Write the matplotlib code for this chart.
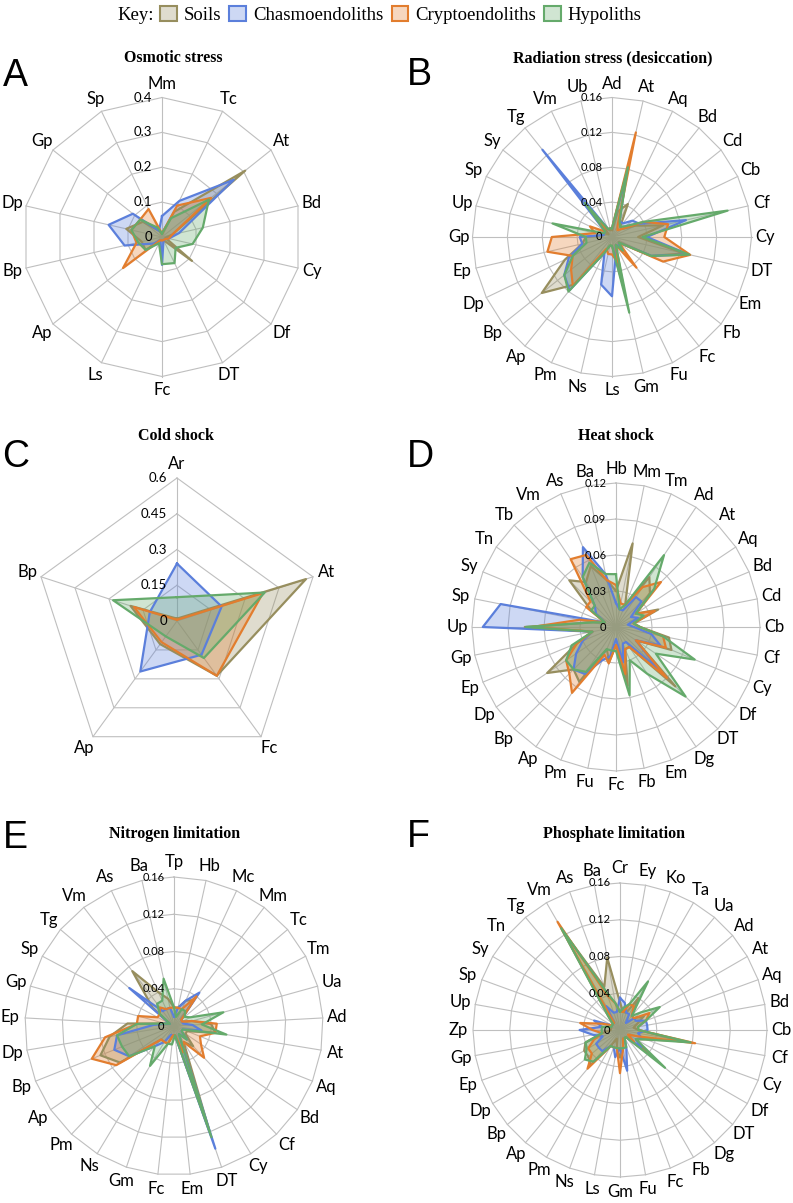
import numpy as np
import matplotlib
matplotlib.use("Agg")
import matplotlib.pyplot as plt
from matplotlib.patches import Patch
from matplotlib.colors import to_rgba

W, H = 793, 1203

series_names = ["Soils", "Chasmoendoliths", "Cryptoendoliths", "Hypoliths"]
edge_colors = ["#978E5E", "#5B7FDB", "#E27D2E", "#65AA6B"]
grid_color = "#BFBFBF"

# A - Osmotic stress
osm_cats = ["Mm", "Tc", "At", "Bd", "Cy", "Df", "DT", "Fc", "Ls", "Ap", "Bp", "Dp", "Gp", "Sp"]
osm_soils = [0.01, 0.08, 0.305, 0.03, 0.01, 0.11, 0.01, 0.01, 0.01, 0.06, 0.06, 0.105, 0.07, 0.02]
osm_chasmo = [0.06, 0.115, 0.263, 0.05, 0.02, 0.01, 0.01, 0.08, 0.01, 0.03, 0.11, 0.157, 0.107, 0.02]
osm_crypto = [0.01, 0.10, 0.18, 0.03, 0.02, 0.01, 0.01, 0.01, 0.01, 0.143, 0.075, 0.09, 0.08, 0.089]
osm_hypo = [0.01, 0.06, 0.172, 0.12, 0.09, 0.05, 0.083, 0.078, 0.02, 0.06, 0.07, 0.09, 0.08, 0.03]

# B - Radiation stress (desiccation)
rad_cats = ["Ad", "At", "Aq", "Bd", "Cd", "Cb", "Cf", "Cy", "DT", "Em", "Fb", "Fc", "Fu", "Gm",
            "Ls", "Ns", "Pm", "Ap", "Bp", "Dp", "Ep", "Gp", "Up", "Sp", "Sy", "Tg", "Vm", "Ub"]
rad_soils = [0.008, 0.03, 0.042, 0.015, 0.015, 0.03, 0.06, 0.03, 0.085, 0.05, 0.01, 0.02, 0.01, 0.06,
             0.01, 0.01, 0.02, 0.07, 0.103, 0.06, 0.035, 0.03, 0.01, 0.01, 0.005, 0.02, 0.01, 0.008]
rad_chasmo = [0.01, 0.075, 0.02, 0.02, 0.03, 0.035, 0.087, 0.04, 0.09, 0.05, 0.01, 0.015, 0.01, 0.02,
              0.068, 0.056, 0.02, 0.078, 0.07, 0.055, 0.035, 0.037, 0.01, 0.01, 0.01, 0.128, 0.01, 0.01]
rad_crypto = [0.01, 0.123, 0.015, 0.01, 0.015, 0.04, 0.066, 0.06, 0.092, 0.065, 0.01, 0.045, 0.01, 0.03,
              0.02, 0.02, 0.015, 0.072, 0.06, 0.05, 0.076, 0.069, 0.02, 0.028, 0.01, 0.02, 0.01, 0.01]
rad_hypo = [0.01, 0.082, 0.02, 0.015, 0.02, 0.04, 0.136, 0.035, 0.091, 0.05, 0.01, 0.02, 0.01, 0.089,
            0.01, 0.01, 0.02, 0.08, 0.07, 0.05, 0.03, 0.03, 0.07, 0.01, 0.01, 0.05, 0.01, 0.01]

# C - Cold shock
cold_cats = ["Ar", "At", "Fc", "Ap", "Bp"]
cold_soils = [0.01, 0.569, 0.284, 0.12, 0.205]
cold_chasmo = [0.241, 0.197, 0.175, 0.262, 0.12]
cold_crypto = [0.005, 0.379, 0.284, 0.11, 0.19]
cold_hypo = [0.10, 0.387, 0.192, 0.08, 0.282]

# D - Heat shock
heat_cats = ["Hb", "Mm", "Tm", "Ad", "At", "Aq", "Bd", "Cd", "Cb", "Cf", "Cy", "Df", "DT", "Dg", "Em", "Fb",
             "Fc", "Fu", "Pm", "Ap", "Bp", "Dp", "Ep", "Gp", "Up", "Sp", "Sy", "Tn", "Tb", "Vm", "As", "Ba"]
heat_soils = [0.03, 0.071, 0.02, 0.05, 0.04, 0.02, 0.038, 0.015, 0.02, 0.045, 0.05, 0.02, 0.07, 0.02, 0.02, 0.05,
              0.015, 0.03, 0.02, 0.055, 0.05, 0.069, 0.035, 0.02, 0.076, 0.02, 0.01, 0.025, 0.055, 0.045, 0.055, 0.04]
heat_chasmo = [0.02, 0.015, 0.015, 0.03, 0.03, 0.015, 0.02, 0.01, 0.015, 0.03, 0.04, 0.02, 0.05, 0.015, 0.015, 0.03,
               0.01, 0.025, 0.03, 0.047, 0.05, 0.04, 0.03, 0.02, 0.111, 0.098, 0.01, 0.02, 0.025, 0.05, 0.072, 0.045]
heat_crypto = [0.035, 0.02, 0.02, 0.04, 0.053, 0.02, 0.035, 0.015, 0.02, 0.04, 0.045, 0.02, 0.06, 0.02, 0.02, 0.04,
               0.015, 0.031, 0.025, 0.066, 0.055, 0.05, 0.035, 0.02, 0.07, 0.031, 0.01, 0.03, 0.03, 0.068, 0.065, 0.04]
heat_hypo = [0.044, 0.015, 0.02, 0.072, 0.045, 0.02, 0.025, 0.015, 0.02, 0.04, 0.071, 0.04, 0.082, 0.047, 0.03, 0.058,
             0.02, 0.02, 0.02, 0.045, 0.05, 0.05, 0.04, 0.02, 0.075, 0.02, 0.01, 0.025, 0.025, 0.05, 0.058, 0.045]

# E - Nitrogen limitation
nit_cats = ["Tp", "Hb", "Mc", "Mm", "Tc", "Tm", "Ua", "Ad", "At", "Aq", "Bd", "Cf", "Cy", "DT", "Em",
            "Fc", "Gm", "Ns", "Pm", "Ap", "Bp", "Dp", "Ep", "Gp", "Sp", "Tg", "Vm", "As", "Ba"]
nit_soils = [0.02, 0.02, 0.03, 0.035, 0.01, 0.01, 0.02, 0.04, 0.045, 0.015, 0.015, 0.03, 0.02, 0.12, 0.01,
             0.01, 0.02, 0.02, 0.02, 0.07, 0.085, 0.07, 0.05, 0.01, 0.005, 0.03, 0.074, 0.04, 0.03]
nit_chasmo = [0.01, 0.02, 0.03, 0.045, 0.01, 0.01, 0.01, 0.02, 0.03, 0.01, 0.01, 0.02, 0.01, 0.139, 0.01,
              0.01, 0.01, 0.02, 0.03, 0.058, 0.069, 0.062, 0.022, 0.01, 0.005, 0.063, 0.02, 0.02, 0.02]
nit_crypto = [0.02, 0.02, 0.02, 0.04, 0.01, 0.01, 0.02, 0.046, 0.045, 0.03, 0.035, 0.047, 0.02, 0.03, 0.01,
              0.01, 0.02, 0.02, 0.02, 0.075, 0.095, 0.075, 0.04, 0.04, 0.02, 0.02, 0.025, 0.02, 0.02]
nit_hypo = [0.02, 0.01, 0.02, 0.02, 0.015, 0.02, 0.055, 0.03, 0.057, 0.01, 0.01, 0.02, 0.01, 0.126, 0.01,
            0.02, 0.02, 0.05, 0.03, 0.058, 0.06, 0.062, 0.04, 0.01, 0.005, 0.02, 0.03, 0.03, 0.052]

# F - Phosphate limitation
pho_cats = ["Cr", "Ey", "Ko", "Ta", "Ua", "Ad", "At", "Aq", "Bd", "Cb", "Cf", "Cy", "Df", "DT", "Dg", "Fb", "Fc", "Fu",
            "Gm", "Ls", "Ns", "Pm", "Ap", "Bp", "Dp", "Ep", "Gp", "Zp", "Up", "Sp", "Sy", "Tn", "Tg", "Vm", "As", "Ba"]
pho_soils = [0.03, 0.02, 0.02, 0.04, 0.02, 0.02, 0.03, 0.02, 0.015, 0.02, 0.07, 0.03, 0.02, 0.04, 0.01, 0.01, 0.01, 0.02,
             0.03, 0.02, 0.01, 0.02, 0.05, 0.045, 0.045, 0.04, 0.02, 0.01, 0.01, 0.01, 0.01, 0.01, 0.02, 0.125, 0.05, 0.08]
pho_chasmo = [0.035, 0.03, 0.02, 0.02, 0.01, 0.02, 0.02, 0.03, 0.03, 0.03, 0.02, 0.025, 0.02, 0.03, 0.01, 0.01, 0.02, 0.045,
              0.02, 0.03, 0.02, 0.02, 0.03, 0.03, 0.03, 0.02, 0.03, 0.044, 0.02, 0.03, 0.01, 0.01, 0.01, 0.03, 0.02, 0.02]
pho_crypto = [0.02, 0.02, 0.03, 0.03, 0.02, 0.02, 0.037, 0.03, 0.02, 0.02, 0.083, 0.02, 0.01, 0.02, 0.01, 0.01, 0.01, 0.02,
              0.047, 0.02, 0.02, 0.02, 0.055, 0.04, 0.04, 0.03, 0.02, 0.03, 0.044, 0.02, 0.01, 0.01, 0.01, 0.136, 0.04, 0.03]
pho_hypo = [0.02, 0.025, 0.03, 0.061, 0.02, 0.03, 0.05, 0.03, 0.02, 0.02, 0.078, 0.03, 0.02, 0.064, 0.01, 0.01, 0.02, 0.02,
            0.02, 0.02, 0.02, 0.02, 0.045, 0.05, 0.042, 0.04, 0.02, 0.02, 0.02, 0.01, 0.01, 0.01, 0.02, 0.128, 0.045, 0.03]


def radar(fig, cx, cy, R, cats, series, rmax, tick_size):
    # polar axes placed so its centre is at (cx, cy) pixels and rmax maps to R pixels
    ax = fig.add_axes([(cx - R) / W, 1 - (cy + R) / H, 2 * R / W, 2 * R / H], projection="polar")
    ax.set_theta_zero_location("N")
    ax.set_theta_direction(-1)
    ax.set_ylim(0, rmax)
    ax.axis("off")

    n = len(cats)
    theta = np.linspace(0, 2 * np.pi, n, endpoint=False)
    th = np.append(theta, theta[0])
    ticks = np.linspace(0, rmax, 5)

    for t in theta:
        ax.plot([t, t], [0, rmax], color=grid_color, lw=0.8, zorder=1, clip_on=False)
    for r in ticks[1:]:
        ax.plot(th, np.full(n + 1, r), color=grid_color, lw=0.8, zorder=1, clip_on=False)

    for vals, col in zip(series, edge_colors):
        v = np.append(vals, vals[0])
        ax.fill(th, v, facecolor=to_rgba(col, 0.3), edgecolor="none", zorder=2)
        ax.plot(th, v, color=col, lw=1.6, zorder=3)

    for t, c in zip(theta, cats):
        ax.text(t, rmax * 1.10, c, ha="center", va="center", fontsize=12, family="Lato")
    for r in ticks:
        ax.annotate(f"{r:g}", xy=(0, r), xytext=(-7, 0), textcoords="offset points",
                    ha="right", va="center", fontsize=tick_size, family="Lato", zorder=4)
    return ax


fig = plt.figure(figsize=(W / 100, H / 100), dpi=100)

panels = [
    ("A", "Osmotic stress", (15, 76), (173, 58), (162, 237, 139.5),
     osm_cats, [osm_soils, osm_chasmo, osm_crypto, osm_hypo], 0.4, 9.5),
    ("B", "Radiation stress (desiccation)", (419, 75), (613, 58), (612, 237, 139.5),
     rad_cats, [rad_soils, rad_chasmo, rad_crypto, rad_hypo], 0.16, 8),
    ("C", "Cold shock", (16, 457), (176, 436), (177, 621, 143),
     cold_cats, [cold_soils, cold_chasmo, cold_crypto, cold_hypo], 0.6, 9.5),
    ("D", "Heat shock", (420, 457), (616, 436), (616, 627, 144),
     heat_cats, [heat_soils, heat_chasmo, heat_crypto, heat_hypo], 0.12, 8),
    ("E", "Nitrogen limitation", (15, 838), (175, 834), (174, 1026, 149),
     nit_cats, [nit_soils, nit_chasmo, nit_crypto, nit_hypo], 0.16, 8),
    ("F", "Phosphate limitation", (418, 837), (614, 834), (620, 1030, 147),
     pho_cats, [pho_soils, pho_chasmo, pho_crypto, pho_hypo], 0.16, 8),
]

for letter, title, lpos, tpos, (cx, cy, R), cats, series, rmax, tsize in panels:
    radar(fig, cx, cy, R, cats, series, rmax, tsize)
    fig.text(lpos[0] / W, 1 - lpos[1] / H, letter, ha="center", va="center",
             fontsize=27, family="Liberation Sans")
    fig.text(tpos[0] / W, 1 - tpos[1] / H, title, ha="center", va="center",
             fontsize=11.5, fontweight="bold", family="Liberation Serif")

# legend ("Key:")
fig.text(154 / W, 1 - 15 / H, "Key:", ha="right", va="center", fontsize=13.5, family="Liberation Serif")
handles = [Patch(facecolor=to_rgba(c, 0.3), edgecolor=c, lw=1.5) for c in edge_colors]
fig.legend(handles, series_names, ncol=4, loc="center left", bbox_to_anchor=(160 / W, 1 - 15 / H),
           frameon=False, prop={"family": "Liberation Serif", "size": 13.5},
           handlelength=0.9, handleheight=0.9, handletextpad=0.35, columnspacing=0.45,
           borderpad=0, borderaxespad=0)

fig.savefig("out.png", dpi=100)
